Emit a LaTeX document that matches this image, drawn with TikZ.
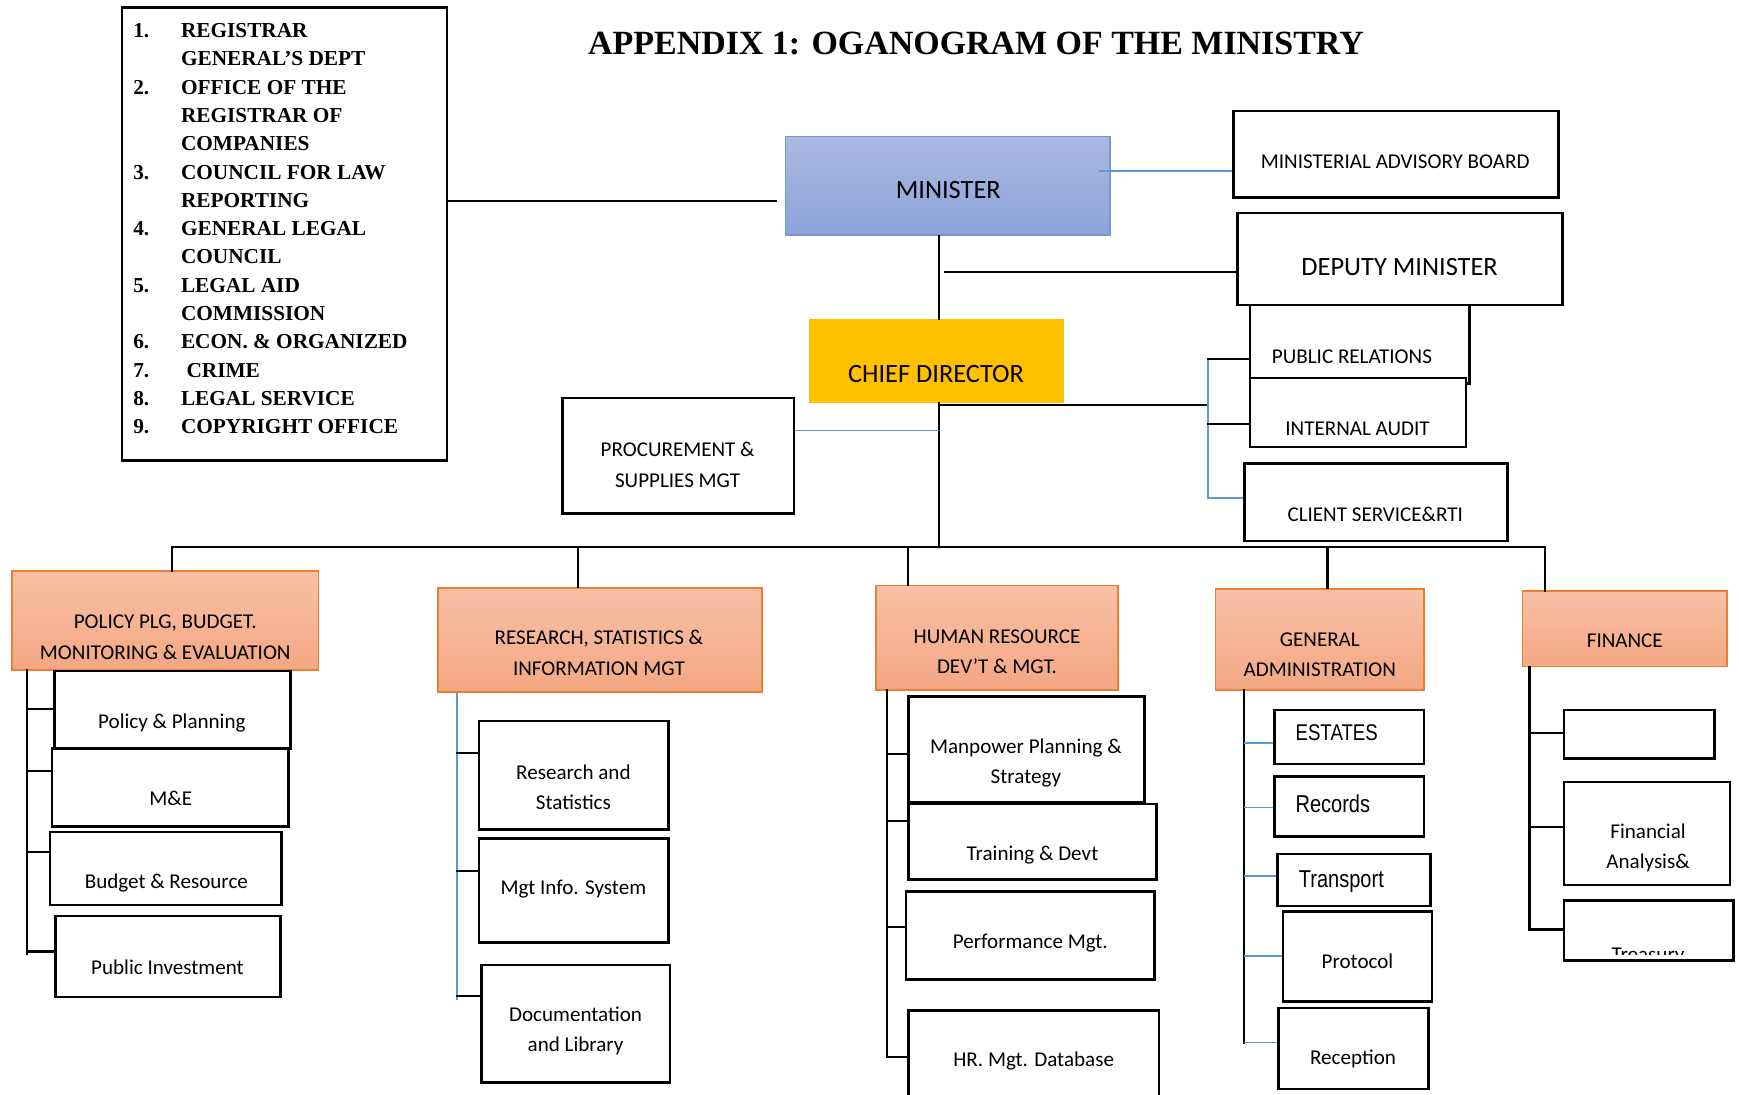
\documentclass[tikz,border=0pt]{standalone}
\usepackage{fontspec}
\setmainfont{Liberation Serif}
\newfontfamily\calfont{Carlito}
\newfontfamily\narrowfont[FakeStretch=0.82]{Liberation Sans}
\usetikzlibrary{fit}

\begin{document}
\begin{tikzpicture}
		[x=1pt,y=-1pt,
		%Styles
		box/.style={draw,fill=white,line width=2.3pt,inner sep=0pt},
		dept/.style={draw=deptedge,line width=1.3pt,top color=depttop,bottom color=deptbottom,inner sep=0pt},
		boxtext/.style={font=\calfont\fontsize{19}{27.5}\selectfont,align=center,inner sep=0pt},
		bigtext/.style={font=\calfont\fontsize{23.8}{28}\selectfont,inner sep=0pt},
		narrowtext/.style={font=\narrowfont\fontsize{#1}{24}\selectfont,inner sep=0pt,anchor=west},
		listtext/.style={font=\bfseries\fontsize{19.2}{25.5}\selectfont,inner sep=0pt,anchor=base west},
		link/.style={line width=2pt,line cap=rect},
		bluelink/.style={line width=1.3pt,linkblue}
		]
		
		%Colors
		\definecolor{deptedge}{HTML}{ED7D31}
		\definecolor{depttop}{HTML}{F7C1A6}
		\definecolor{deptbottom}{HTML}{F4A783}
		\definecolor{minedge}{HTML}{7896D7}
		\definecolor{mintop}{HTML}{AAB9E1}
		\definecolor{minbottom}{HTML}{8CA3DA}
		\definecolor{cdyellow}{HTML}{FFC000}
		\definecolor{linkblue}{HTML}{5B9BD5}
		
		\clip (0,0) rectangle (1568,987);
		
		%Title and the list of agencies
		\node[font=\bfseries\fontsize{30.6}{34}\selectfont,inner sep=0pt,anchor=base] (title) at (880,49) {APPENDIX 1: OGANOGRAM OF THE MINISTRY};
		\node[box,fit={(110,7) (403,415)}] (list) {};
		\foreach \n/\t [count=\i from 0] in {1./REGISTRAR, /GENERAL’S DEPT, 2./OFFICE OF THE, /REGISTRAR OF, /COMPANIES,
			3./COUNCIL FOR LAW, /REPORTING, 4./GENERAL LEGAL, /COUNCIL, 5./LEGAL AID, /COMMISSION,
			6./ECON. \& ORGANIZED, 7./\hspace{5pt}CRIME, 8./LEGAL SERVICE, 9./COPYRIGHT OFFICE}
		{
			\node[listtext] (num\i) at (120,34+25.5*\i) {\n};
			\node[listtext] (item\i) at (163,34+25.5*\i) {\t};
		}
		
		%Top of the ministry
		\node[fit={(708,123) (1001,212)},draw=minedge,line width=1.3pt,top color=mintop,bottom color=minbottom,inner sep=0pt] (min) {};
		\node[fit={(729,288) (959,363)},fill=cdyellow,inner sep=0pt] (cd) {};
		\foreach \nm/\xa/\ya/\xb/\yb in {adv/1112/100/1405/178, pr/1127/268/1325/346, ia/1127/341/1322/403,
			dep/1116/192/1409/275, cs/1122/418/1359/488, proc/507/359/716/463}
			\node[box,fit={(\xa,\ya) (\xb,\yb)}] (\nm) {};
		
		\node[bigtext] (min-t) at (855,171) {MINISTER};
		\node[bigtext] (dep-t) at (1262,241) {DEPUTY MINISTER};
		\node[bigtext] (cd-t) at (844,337) {CHIEF DIRECTOR};
		
		%Directorates
		\foreach \nm/\xa/\ya/\xb/\yb in {pol/11/515/287/604, res/395/530/687/624, hr/790/528/1008/622,
			ga/1096/531/1284/622, fin/1373/533/1557/601}
			\node[dept,fit={(\xa,\ya) (\xb,\yb)}] (\nm) {};
		
		%Units
		\foreach \nm/\xa/\ya/\xb/\yb in {pp/49/605/262/675, me/47/675/260/745, br/45/750/254/816, pi/50/826/253/899,
			rs/432/650/603/748, mis/432/756/603/850, dl/434/870/604/976,
			mps/819/628/1032/723, td/819/725/1043/793, pm/817/804/1041/883, db/819/911/1045/1000,
			est/1149/640/1284/689, rec/1149/700/1284/754, tra/1152/770/1290/817, pro/1157/822/1291/903, rcp/1153/909/1288/982,
			fe/1410/640/1546/684, fa/1410/705/1560/798, tr/1410/812/1563/866}
			\node[box,fit={(\xa,\ya) (\xb,\yb)}] (\nm) {};
		
		\foreach \nm/\x/\y/\t in {adv/1258/146/MINISTERIAL ADVISORY BOARD, pr/1219/322/PUBLIC RELATIONS,
			ia/1224/387/INTERNAL AUDIT, cs/1240/464/CLIENT SERVICE\&RTI, proc/611/419/{PROCUREMENT \&\\SUPPLIES MGT},
			pol/149/574.5/{POLICY PLG, BUDGET.\\MONITORING \& EVALUATION}, res/540/588.5/{RESEARCH, STATISTICS \&\\INFORMATION MGT},
			hr/899/587.5/{HUMAN RESOURCE\\DEV’T \& MGT.}, ga/1190/590.5/{GENERAL\\ADMINISTRATION}, fin/1465/578/FINANCE,
			pp/155/652/Policy \& Planning, me/154/720/M\&E, br/150/796/Budget \& Resource, pi/151/872/Public Investment,
			rs/517/710/{Research and\\Statistics}, mis/517/802/Mgt Info. System, dl/519/929.5/{Documentation\\and Library},
			mps/925/688/{Manpower Planning \&\\Strategy}, td/931/771/Training \& Devt, pm/929/850/Performance Mgt.,
			db/932/957/HR. Mgt. Database, pro/1224/867/Protocol, rcp/1220/955/Reception, fa/1486/764.5/{Financial\\Analysis\&}}
			\node[boxtext] (\nm-t) at (\x,\y) {\t};
		
		\node[narrowtext=20.5] (est-t) at (1168,661) {ESTATES};
		\node[narrowtext=22] (rec-t) at (1168,725) {Records};
		\node[narrowtext=22] (tra-t) at (1171,795) {Transport};
		\begin{scope}
			\clip (1410,812) rectangle (1563,861);
			\node[boxtext,anchor=base] (tr-t) at (1486,867) {Treasury};
		\end{scope}
		
		%Connectors
		\coordinate (spine) at (847,0);
		\coordinate (brk) at (1089,0);
		\coordinate (listend) at (700,181);
		\coordinate (advstart) at (991,154);
		\coordinate (depstart) at (852,245);
		\coordinate (busleft) at (155,493);
		\coordinate (busright) at (1393,493);
		
		\draw[link] (list.east |- listend) -- (listend);
		\draw[bluelink] (advstart) -- (adv.west |- advstart);
		\draw[link] (depstart) -- (dep.west |- depstart);
		\draw[link] (min.south -| spine) -- (cd.north -| spine);
		\draw[link] (cd.south -| spine) -- (spine |- busleft);
		\draw[link] (spine |- 0,365) -- (brk |- 0,365);
		\draw[bluelink] (brk |- 0,324) -- (brk |- 0,449) -- (cs.west |- 0,449);
		\draw[link] (brk |- 0,324) -- (pr.west |- 0,324);
		\draw[link] (brk |- 0,382) -- (ia.west |- 0,382);
		\draw[bluelink] (proc.east |- 0,388) -- (spine |- 0,388);
		
		\draw[link] (busleft) -- (busright);
		\foreach \d/\x in {pol/155,res/521,hr/819,ga/1197,fin/1393}
			\draw[link] (\x,0 |- busleft) -- (\x,0 |- \d.north);
		
		\draw[link] (pol.south -| 24,0) -- (24,860);
		\foreach \b/\y in {pp/639,me/695,br/768,pi/858}
			\draw[link] (24,\y) -- (\b.west |- 0,\y);
		\draw[bluelink] (res.south -| 412,0) -- (412,902);
		\foreach \b/\y in {rs/679,mis/785,dl/898}
			\draw[link] (412,\y) -- (\b.west |- 0,\y);
		\draw[link] (hr.south -| 800,0) -- (800,953);
		\foreach \b/\y in {mps/680,td/740,pm/836,db/953}
			\draw[link] (800,\y) -- (\b.west |- 0,\y);
		\draw[link] (ga.south -| 1122,0) -- (1122,940);
		\foreach \b/\y in {est/670,rec/728,tra/790,pro/862,rcp/940}
			\draw[bluelink] (1122,\y) -- (\b.west |- 0,\y);
		\draw[link] (fin.south -| 1379,0) -- (1379,838);
		\foreach \b/\y in {fe/661,fa/746,tr/838}
			\draw[link] (1379,\y) -- (\b.west |- 0,\y);
	\end{tikzpicture}
\end{document}
